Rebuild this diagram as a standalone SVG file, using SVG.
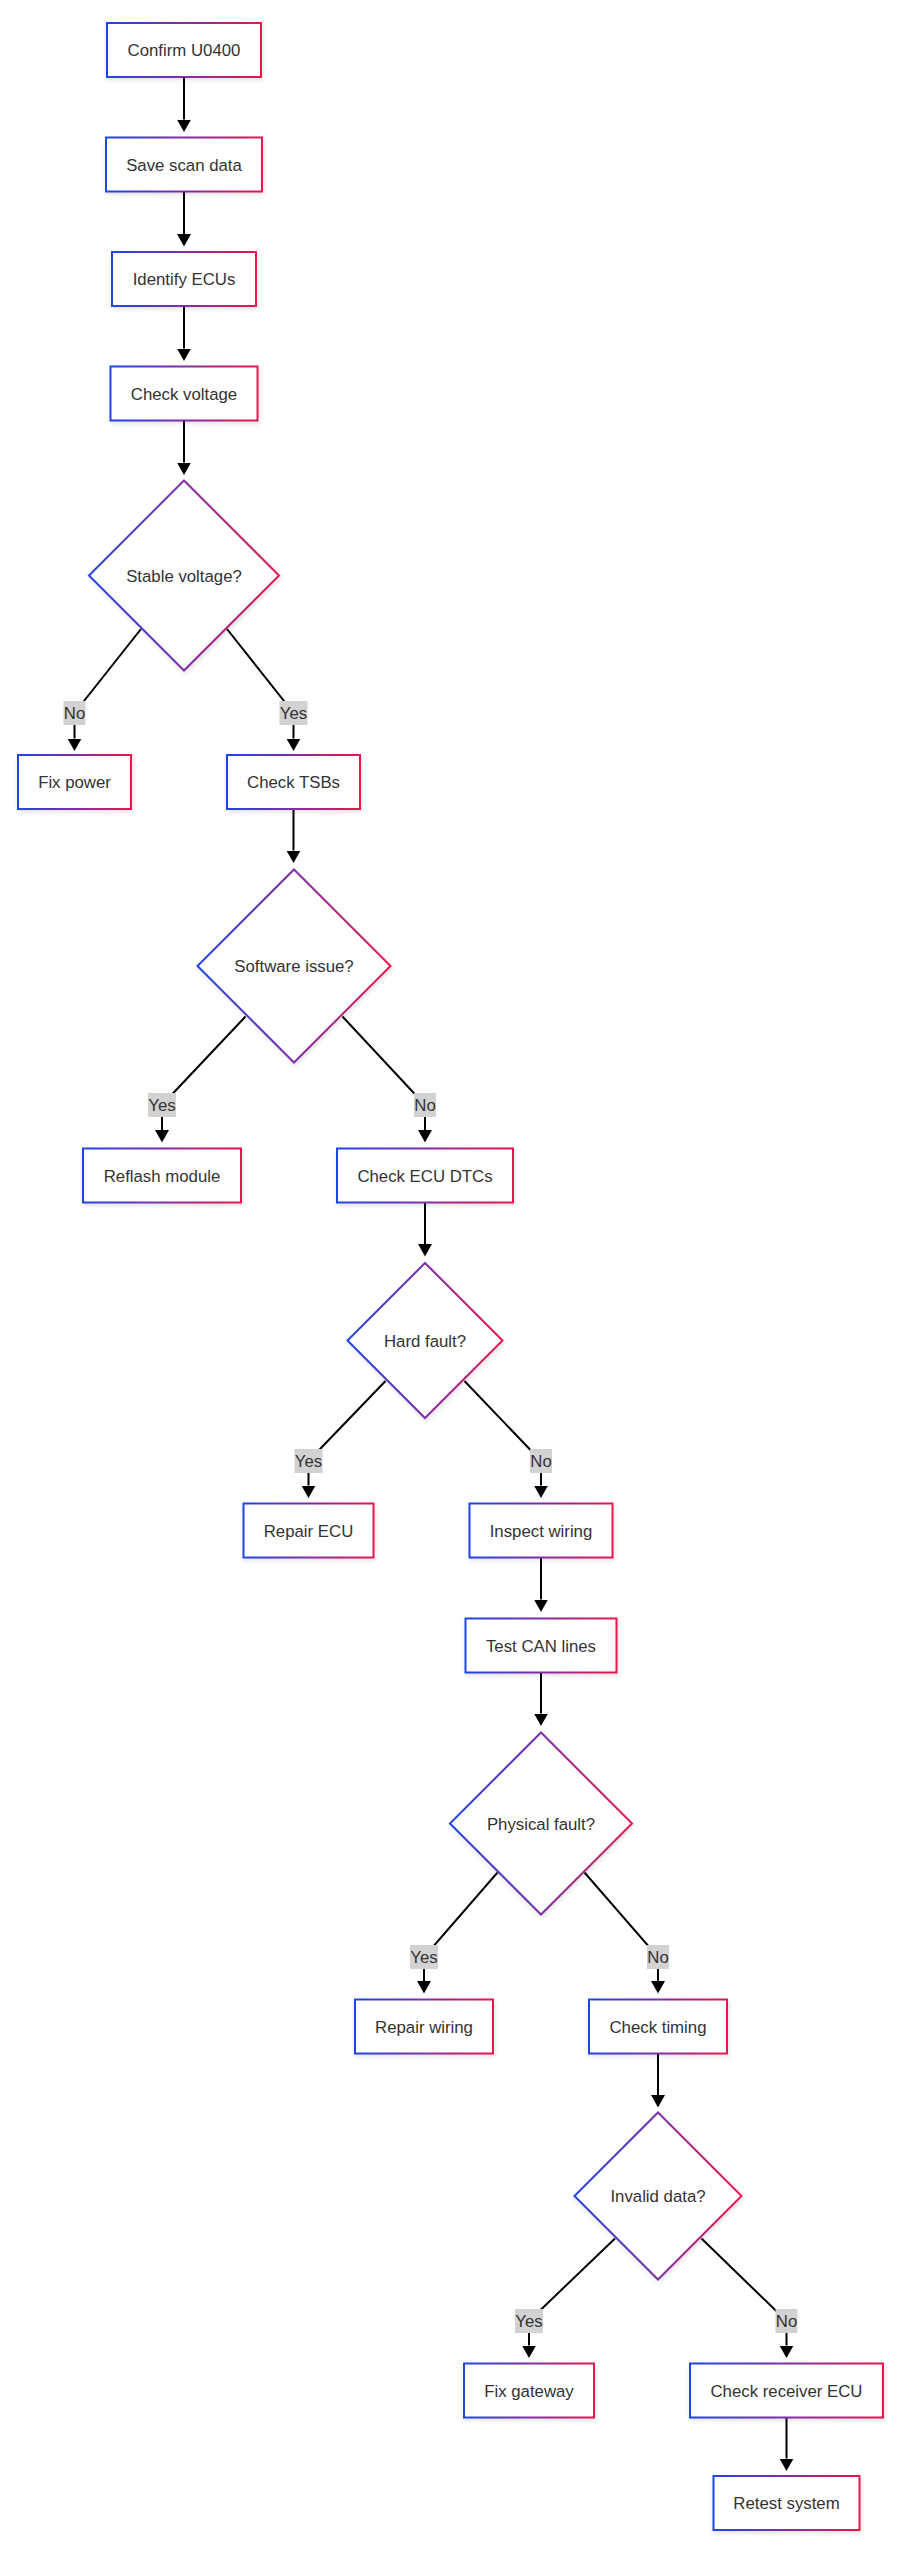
<svg xmlns="http://www.w3.org/2000/svg" width="901" height="2560" viewBox="0 0 901 2560">
<defs>
<linearGradient id="g" x1="0" y1="0" x2="1" y2="0">
<stop offset="0" stop-color="#1f45e6"/>
<stop offset="0.5" stop-color="#7f2fa6"/>
<stop offset="1" stop-color="#e8174d"/>
</linearGradient>
<filter id="sh" x="-20%" y="-20%" width="140%" height="140%">
<feDropShadow dx="1" dy="2" stdDeviation="2" flood-color="#000" flood-opacity="0.12"/>
</filter>
<marker id="arr" markerUnits="userSpaceOnUse" markerWidth="13" markerHeight="14" viewBox="0 0 13 14" refX="0" refY="7" orient="auto">
<path d="M0,0 L12.5,7 L0,14 z" fill="#000"/>
</marker>
</defs>
<style>
.n rect, .n polygon { fill: #ffffff; stroke: url(#g); stroke-width: 2; filter: url(#sh); }
.t { font-family: "Liberation Sans", Arial, sans-serif; font-size: 16.8px; fill: #333333; text-anchor: middle; }
.e path { fill: none; stroke: #000000; stroke-width: 2; marker-end: url(#arr); }
.lb rect { fill: #d2d2d2; }
.lb text { font-family: "Liberation Sans", Arial, sans-serif; font-size: 16.8px; fill: #333333; text-anchor: middle; }
</style>
<rect x="0" y="0" width="901" height="2560" fill="#ffffff"/>

<g id="edges" class="e">
<path d="M184,77 V119.5"/>
<path d="M184,191.5 V234"/>
<path d="M184,306 V348.5"/>
<path d="M184,420.5 V462.5"/>
<path d="M141,629 L74.5,713 V738.5"/>
<path d="M227,629 L293.5,713 V738.5"/>
<path d="M293.5,809 V850.5"/>
<path d="M245.5,1016.5 L162,1105 V1130"/>
<path d="M342.5,1016.5 L425,1105 V1130"/>
<path d="M425,1202.5 V1244"/>
<path d="M385.5,1381 L308.5,1461 V1485.5"/>
<path d="M464.5,1381 L541,1461 V1485.5"/>
<path d="M541,1557.5 V1599.5"/>
<path d="M541,1672.5 V1713.5"/>
<path d="M497.5,1872.5 L424,1957 V1981"/>
<path d="M584.5,1872.5 L658,1957 V1981"/>
<path d="M658,2053.5 V2095"/>
<path d="M615,2238.5 L529,2321 V2345.5"/>
<path d="M701.5,2238.5 L786.5,2321 V2345.5"/>
<path d="M786.5,2417.5 V2458.5"/>
</g>

<g id="edge-labels" class="lb">
<g><rect x="63.5" y="701" width="22" height="24"/><text x="74.5" y="719">No</text></g>
<g><rect x="279.5" y="701" width="28" height="24"/><text x="293.5" y="719">Yes</text></g>
<g><rect x="148" y="1093" width="28" height="24"/><text x="162" y="1111">Yes</text></g>
<g><rect x="414" y="1093" width="22" height="24"/><text x="425" y="1111">No</text></g>
<g><rect x="294.5" y="1449" width="28" height="24"/><text x="308.5" y="1467">Yes</text></g>
<g><rect x="530" y="1449" width="22" height="24"/><text x="541" y="1467">No</text></g>
<g><rect x="410" y="1945" width="28" height="24"/><text x="424" y="1963">Yes</text></g>
<g><rect x="647" y="1945" width="22" height="24"/><text x="658" y="1963">No</text></g>
<g><rect x="515" y="2309" width="28" height="24"/><text x="529" y="2327">Yes</text></g>
<g><rect x="775.5" y="2309" width="22" height="24"/><text x="786.5" y="2327">No</text></g>
</g>

<g id="n1" class="n"><rect x="107" y="23" width="154" height="54"/><text class="t" x="184" y="56">Confirm U0400</text></g>
<g id="n2" class="n"><rect x="106" y="137.5" width="156" height="54"/><text class="t" x="184" y="170.5">Save scan data</text></g>
<g id="n3" class="n"><rect x="112" y="252" width="144" height="54"/><text class="t" x="184" y="285">Identify ECUs</text></g>
<g id="n4" class="n"><rect x="110.5" y="366.5" width="147" height="54"/><text class="t" x="184" y="399.5">Check voltage</text></g>
<g id="d1" class="n"><polygon points="184,480.5 279,575.5 184,670.5 89,575.5"/><text class="t" x="184" y="581.5">Stable voltage?</text></g>
<g id="n5" class="n"><rect x="18" y="755" width="113" height="54"/><text class="t" x="74.5" y="788">Fix power</text></g>
<g id="n6" class="n"><rect x="227" y="755" width="133" height="54"/><text class="t" x="293.5" y="788">Check TSBs</text></g>
<g id="d2" class="n"><polygon points="294,869.5 390.5,966 294,1062.5 197.5,966"/><text class="t" x="294" y="972">Software issue?</text></g>
<g id="n7" class="n"><rect x="83" y="1148.5" width="158" height="54"/><text class="t" x="162" y="1181.5">Reflash module</text></g>
<g id="n8" class="n"><rect x="337" y="1148.5" width="176" height="54"/><text class="t" x="425" y="1181.5">Check ECU DTCs</text></g>
<g id="d3" class="n"><polygon points="425,1263 502.5,1340.5 425,1418 347.5,1340.5"/><text class="t" x="425" y="1346.5">Hard fault?</text></g>
<g id="n9" class="n"><rect x="243.5" y="1503.5" width="130" height="54"/><text class="t" x="308.5" y="1536.5">Repair ECU</text></g>
<g id="n10" class="n"><rect x="469.5" y="1503.5" width="143" height="54"/><text class="t" x="541" y="1536.5">Inspect wiring</text></g>
<g id="n11" class="n"><rect x="465.5" y="1618.5" width="151" height="54"/><text class="t" x="541" y="1651.5">Test CAN lines</text></g>
<g id="d4" class="n"><polygon points="541,1732.5 632,1823.5 541,1914.5 450,1823.5"/><text class="t" x="541" y="1829.5">Physical fault?</text></g>
<g id="n12" class="n"><rect x="355" y="1999.5" width="138" height="54"/><text class="t" x="424" y="2032.5">Repair wiring</text></g>
<g id="n13" class="n"><rect x="589" y="1999.5" width="138" height="54"/><text class="t" x="658" y="2032.5">Check timing</text></g>
<g id="d5" class="n"><polygon points="658,2112.5 741.5,2196 658,2279.5 574.5,2196"/><text class="t" x="658" y="2202">Invalid data?</text></g>
<g id="n14" class="n"><rect x="464" y="2363.5" width="130" height="54"/><text class="t" x="529" y="2396.5">Fix gateway</text></g>
<g id="n15" class="n"><rect x="690" y="2363.5" width="193" height="54"/><text class="t" x="786.5" y="2396.5">Check receiver ECU</text></g>
<g id="n16" class="n"><rect x="713.5" y="2476" width="146" height="54"/><text class="t" x="786.5" y="2509">Retest system</text></g>
</svg>
